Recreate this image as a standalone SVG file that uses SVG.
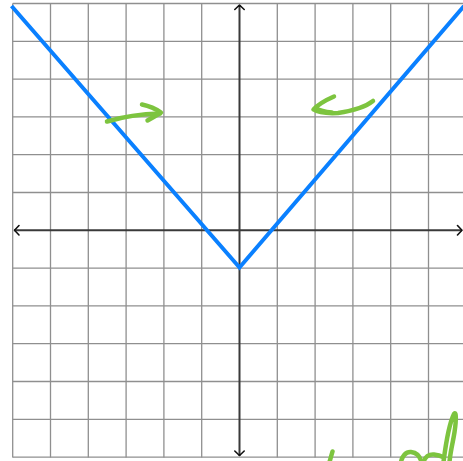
<svg xmlns="http://www.w3.org/2000/svg" width="463" height="461" viewBox="0 0 463 461">
<style>
.grid line{stroke:#8f8f8f;stroke-width:1.3}
.axis{stroke:#3a3a3a;stroke-width:2;fill:none}
.tip{stroke:#111;stroke-width:1.6;fill:none;stroke-linecap:round;stroke-linejoin:round}
.curve{stroke:#0a80ff;stroke-width:4;fill:none;stroke-linejoin:miter}
.ink{stroke:#7dc43f;stroke-width:4.5;fill:none;stroke-linecap:round;stroke-linejoin:round}
</style>
<rect width="463" height="461" fill="#fff"/>
<g id="grid" class="grid">
<line x1="12.7" y1="3.5" x2="12.7" y2="457.5"/>
<line x1="50.5" y1="3.5" x2="50.5" y2="457.5"/>
<line x1="88.3" y1="3.5" x2="88.3" y2="457.5"/>
<line x1="126.1" y1="3.5" x2="126.1" y2="457.5"/>
<line x1="163.9" y1="3.5" x2="163.9" y2="457.5"/>
<line x1="201.7" y1="3.5" x2="201.7" y2="457.5"/>
<line x1="277.3" y1="3.5" x2="277.3" y2="457.5"/>
<line x1="315.1" y1="3.5" x2="315.1" y2="457.5"/>
<line x1="352.9" y1="3.5" x2="352.9" y2="457.5"/>
<line x1="390.7" y1="3.5" x2="390.7" y2="457.5"/>
<line x1="428.5" y1="3.5" x2="428.5" y2="457.5"/>
<line x1="12.7" y1="3.5" x2="463" y2="3.5"/>
<line x1="12.7" y1="41.3" x2="463" y2="41.3"/>
<line x1="12.7" y1="79.1" x2="463" y2="79.1"/>
<line x1="12.7" y1="116.9" x2="463" y2="116.9"/>
<line x1="12.7" y1="154.7" x2="463" y2="154.7"/>
<line x1="12.7" y1="192.5" x2="463" y2="192.5"/>
<line x1="12.7" y1="268.1" x2="463" y2="268.1"/>
<line x1="12.7" y1="305.9" x2="463" y2="305.9"/>
<line x1="12.7" y1="343.7" x2="463" y2="343.7"/>
<line x1="12.7" y1="381.5" x2="463" y2="381.5"/>
<line x1="12.7" y1="419.3" x2="463" y2="419.3"/>
<line x1="12.7" y1="457.1" x2="463" y2="457.1"/>
</g>
<g id="axes">
<line class="axis" x1="14" y1="230.3" x2="462" y2="230.3"/>
<line class="axis" x1="239.5" y1="5" x2="239.5" y2="456"/>
<path class="tip" d="M19,225.5 L14.5,230.3 L19,235"/>
<path class="tip" d="M457.5,225.5 L462,230.3 L457.5,235"/>
<path class="tip" d="M234.8,9.5 L239.5,5 L244.2,9.5"/>
<path class="tip" d="M234.8,451 L239.5,455.5 L244.2,451"/>
</g>
<g id="graph">
<path class="curve" d="M11.5,6 L239.5,267.5 L464,6"/>
</g>
<g id="annotations">
<path class="ink" d="M107,121.5 C122,117 140,114 160,113.5"/>
<path class="ink" d="M142,104.5 C149,106 156,109 161,112.5 C157,115 152,118 147.5,120.5"/>
<path class="ink" d="M334,96.5 C326,100 318,104.5 313.5,109.5 C318,112.5 328,113.5 338,113 C352,111 364,108 373,101"/>
<path class="ink" d="M316,108 C320,111 326,112 332,112.5"/>
<path class="ink" d="M332.5,451.5 L329.5,462"/>
<path class="ink" d="M401,462 C402,456 406,451.5 411,452 C416,452.5 420,456 421.5,462"/>
<path class="ink" d="M423.5,462 C425,457 429,454 434,454.5 C438,455 441,456 443,457"/>
<path class="ink" d="M443.5,462 C446,442 450,422 454,414 C456.5,410 456.5,422 453.5,438 C451.5,448 450,455 449.5,462"/>
</g>
</svg>
